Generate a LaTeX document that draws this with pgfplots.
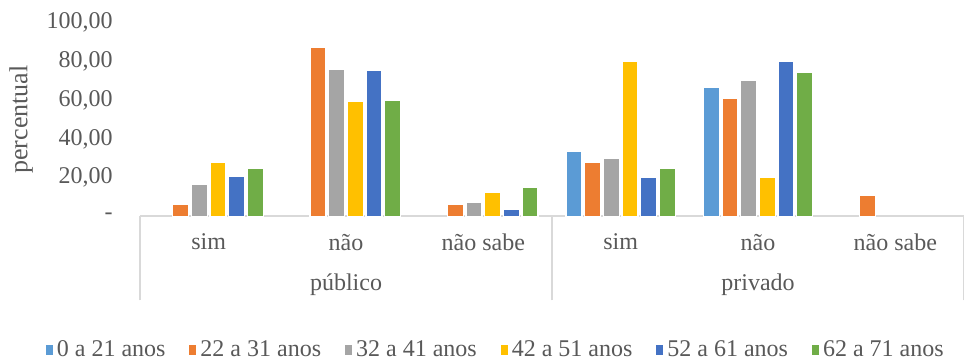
\documentclass[border=0pt]{standalone}
\usepackage{fontspec}
\setmainfont{Liberation Serif}
\usepackage{pgfplots}
\pgfplotsset{compat=1.18}
\definecolor{cA}{HTML}{5B9BD5}
\definecolor{cB}{HTML}{ED7D31}
\definecolor{cC}{HTML}{A5A5A5}
\definecolor{cD}{HTML}{FFC000}
\definecolor{cE}{HTML}{4472C4}
\definecolor{cF}{HTML}{70AD47}
\definecolor{txt}{HTML}{595959}
\definecolor{axl}{HTML}{D9D9D9}
\begin{document}
\begin{tikzpicture}
\begin{axis}[
  at={(0,0)}, anchor=south west,
  scale only axis, width=412pt, height=97pt,
  xmin=-0.5, xmax=5.5, ymin=0, ymax=100,
  ybar=1.33pt, bar width=8pt,
  axis x line=bottom, axis y line=left,
  x axis line style={-, draw=axl, line width=1pt},
  y axis line style={draw=none},
  xtick={0,1,2,3,4,5},
  xticklabels={sim,não,não sabe,sim,não,não sabe},
  xtick style={draw=none},
  ytick={0,20,40,60,80,100},
  yticklabels={{-\hspace{6pt}},{20,00},{40,00},{60,00},{80,00},{100,00}},
  ytick style={draw=none},
  yticklabel style={xshift=-8pt},
  xticklabel style={yshift=-3pt},
  extra x ticks={-0.5,2.5,5.5},
  extra x tick labels={},
  extra x tick style={major tick length=42pt, tick align=outside, xtick style={draw=axl, line width=1pt}},
  ticklabel style={font=\fontsize{12}{14}\selectfont, text=txt},
  ylabel={percentual},
  ylabel style={font=\fontsize{13}{15}\selectfont, text=txt},
  every axis plot/.append style={draw=white, line width=0.6pt},
  legend columns=6,
  legend style={at={(0.433,0)}, anchor=center, yshift=-66.75pt, draw=none,
    font=\fontsize{12}{14}\selectfont, text=txt,
    /tikz/every even column/.append style={column sep=10pt}},
  legend image code/.code={\fill[#1,draw=none] (1pt,-2.3pt) rectangle (4.5pt,2.3pt);},
  clip=false,
]
\addplot[fill=cA] coordinates {(3,33.3) (4,66.7)};
\addplot[fill=cB] coordinates {(0,6.1) (1,87.3) (2,6.1) (3,27.8) (4,61.1) (5,11.1)};
\addplot[fill=cC] coordinates {(0,16.3) (1,75.8) (2,7.4) (3,30.0) (4,70.0)};
\addplot[fill=cD] coordinates {(0,27.7) (1,59.3) (2,12.4) (3,80.0) (4,20.0)};
\addplot[fill=cE] coordinates {(0,20.9) (1,75.2) (2,3.8) (3,20.0) (4,80.0)};
\addplot[fill=cF] coordinates {(0,24.9) (1,59.7) (2,15.2) (3,25.0) (4,74.5)};
\legend{0 a 21 anos,22 a 31 anos,32 a 41 anos,42 a 51 anos,52 a 61 anos,62 a 71 anos}
\node[font=\fontsize{12}{14}\selectfont, text=txt] at (axis cs:1,0) [yshift=-34pt] {público};
\node[font=\fontsize{12}{14}\selectfont, text=txt] at (axis cs:4,0) [yshift=-34pt] {privado};
\end{axis}
\pgfresetboundingbox
\path (-70pt,-73.25pt) rectangle (412pt,108.25pt);
\end{tikzpicture}
\end{document}
